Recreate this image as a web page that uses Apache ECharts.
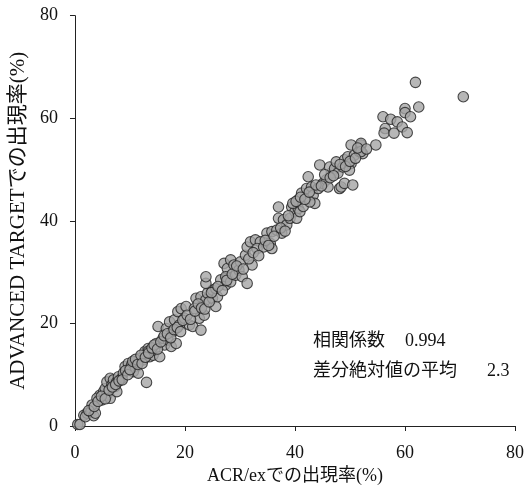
<!DOCTYPE html>
<html>
<head>
<meta charset="utf-8">
<script src="https://cdn.jsdelivr.net/npm/echarts@6/dist/echarts.min.js"></script>
<style>
  html, body { margin: 0; padding: 0; background: #fff; }
</style>
</head>
<body>
<div style="width: 527px;height: 493px" id="main"></div>
<script>
  // ACR/ex (x) と ADVANCED TARGET (y) の出現率 (%)
  const acrEx = [
    0.5, 0.9, 1.6, 2.2, 1.9, 2.9, 3.4, 3.7, 3.1, 4.5, 4.0, 4.9, 5.2, 5.8, 6.4, 5.5,
    5.8, 6.4, 6.7, 7.3, 7.0, 7.6, 7.9, 8.5, 8.8, 7.6, 9.1, 9.7, 10.3, 10.9, 11.2, 10.6,
    11.5, 11.8, 12.4, 12.7, 13.3, 13.6, 14.2, 13.0,
    13.3, 14.5, 15.4, 14.8, 16.3, 16.0, 16.9, 17.5, 18.4, 15.1, 16.6, 17.8, 17.2, 18.1,
    19.0, 18.7, 19.3, 20.2, 19.9, 20.8, 21.4, 21.7, 22.9, 22.6, 23.5, 22.0, 22.9, 23.8,
    25.0, 25.6, 24.1, 25.0, 25.9, 23.8, 23.8, 25.6, 26.5, 27.4, 27.7,
    27.1, 27.7, 28.3, 28.9, 27.4, 28.3, 29.2, 29.8, 30.1, 30.4, 31.3, 32.2, 31.0, 31.3,
    31.9, 32.8, 33.7, 33.1, 34.3, 35.5, 35.8, 34.9, 35.8, 36.7, 37.6, 37.0, 37.9, 38.5,
    39.1, 37.0, 39.4, 40.0, 40.6,
    40.3, 40.9, 41.5, 40.6, 41.2, 42.1, 42.4, 43.0, 43.3, 43.6, 42.7, 44.2, 44.5, 45.1,
    45.7, 46.0, 46.6, 46.3, 47.2, 47.5, 47.8, 48.1, 48.4, 49.0, 48.7, 49.0, 49.6, 50.2,
    50.5, 49.9, 50.8, 51.7, 52.3, 50.2, 52.0, 54.7, 52.0, 52.0,
    56.0, 56.4, 56.2, 57.4, 58.0, 58.6, 59.5, 60.4, 60.0, 60.0, 61.0, 62.5, 61.9, 70.6,
    2.5, 3.5, 4.2, 4.8, 5.5, 6.2, 6.8, 7.4, 8.0, 8.6, 9.2, 9.6, 10.0, 10.5, 11.0, 11.4,
    12.0, 12.2, 12.8, 13.4, 14.0, 14.4, 15.0, 15.6, 16.2, 16.8, 17.4, 18.0, 18.6, 19.2,
    19.6, 20.4, 21.0, 21.8, 22.4, 23.0, 23.6, 24.4, 24.8, 26.0, 26.8, 27.6, 28.6, 29.4,
    30.6, 31.6, 32.4, 33.4, 34.6, 35.2, 36.2, 37.4, 38.2, 38.8, 39.6, 40.2, 41.0, 41.8,
    42.6, 43.8, 44.8, 45.4, 46.4, 47.0, 48.2, 49.2, 50.0, 51.0, 51.4, 53.0
  ];
  const advancedTarget = [
    0.3, 0.3, 2.1, 2.5, 1.8, 2.8, 2.0, 2.5, 4.1, 6.0, 5.4, 5.1, 6.7, 6.0, 5.4, 7.3,
    8.6, 9.3, 8.0, 7.7, 9.0, 8.6, 9.6, 9.3, 10.3, 6.7, 11.6, 12.2, 11.9, 12.5, 11.6, 10.6,
    10.3, 13.2, 12.9, 14.5, 15.1, 13.5, 13.8, 8.5,
    14.5, 14.8, 13.5, 16.1, 15.8, 17.1, 16.8, 15.5, 16.1, 19.4, 19.0, 18.4, 20.3, 20.7,
    19.7, 22.3, 22.9, 23.3, 21.0, 19.7, 19.4, 22.9, 18.7, 21.0, 21.6, 24.9, 25.2, 24.6,
    24.9, 23.3, 25.9, 26.5, 25.2, 27.8, 29.1, 26.8, 28.5, 27.5, 29.1,
    31.7, 30.7, 32.4, 31.4, 29.1, 28.1, 29.4, 30.4, 32.0, 29.1, 27.8, 31.4, 33.3, 34.9,
    35.9, 36.3, 35.9, 34.6, 34.9, 35.6, 34.6, 37.6, 37.9, 38.2, 37.6, 40.5, 40.2, 39.2,
    40.5, 42.7, 42.7, 41.8, 42.4,
    40.5, 41.8, 42.8, 44.1, 45.4, 46.3, 48.6, 46.6, 45.0, 43.4, 43.7, 46.3, 50.9, 47.3,
    48.0, 46.6, 49.3, 50.5, 50.2, 51.5, 49.3, 46.3, 46.6, 47.3, 50.5, 51.9, 52.5, 51.2,
    47.0, 49.9, 52.8, 53.5, 53.1, 54.8, 54.8, 54.8, 55.1, 53.5,
    60.3, 58.0, 57.1, 59.8, 57.1, 59.3, 58.3, 57.2, 61.9, 61.1, 60.3, 62.2, 67.0, 64.2,
    3.0, 3.8, 4.8, 5.8, 5.3, 7.0, 7.6, 8.1, 8.8, 9.0, 10.8, 10.0, 11.0, 12.6, 13.0, 12.0,
    13.8, 12.2, 13.4, 14.2, 15.2, 15.8, 15.0, 16.4, 17.6, 18.0, 17.2, 18.8, 19.2, 18.4,
    20.6, 21.6, 20.8, 22.4, 23.8, 23.0, 22.8, 24.2, 26.0, 27.2, 26.4, 28.4, 29.6, 31.2,
    30.6, 32.6, 33.8, 33.2, 36.2, 35.2, 37.0, 38.6, 38.0, 41.0, 43.4, 43.8, 44.6, 44.2,
    45.6, 47.0, 46.8, 49.0, 48.4, 48.8, 51.0, 50.6, 51.6, 52.2, 54.2, 54.0
  ];
  const axisTicks = [0, 20, 40, 60, 80];
  const statNames = ['相関係数', '差分絶対値の平均'];
  const statValues = ['0.994', '2.3'];

  const serif = '"Liberation Serif", "DejaVu Serif", "Noto Sans CJK JP", serif';
  const points = acrEx.map((x, i) => [x, advancedTarget[i]]);

  const axisCommon = {
    type: 'value',
    min: axisTicks[0],
    max: axisTicks[axisTicks.length - 1],
    interval: 20,
    nameLocation: 'middle',
    axisLine: { show: true, lineStyle: { color: '#222', width: 1 } },
    axisTick: { show: true, inside: false, length: 5, lineStyle: { color: '#222' } },
    axisLabel: { fontFamily: serif, fontSize: 18, color: '#111' },
    splitLine: { show: false }
  };

  // 統計値の注記（名前と値を別々に置く）
  const statText = [];
  statNames.forEach((t, i) => {
    statText.push({
      type: 'text', left: 313, top: 332 + i * 30,
      style: { text: t, fontFamily: serif, fontSize: 18, fill: '#111' }
    });
    statText.push({
      type: 'text', left: i === 0 ? 405 : 487, top: 332 + i * 30,
      style: { text: statValues[i], fontFamily: serif, fontSize: 18, fill: '#111' }
    });
  });

  const chart = echarts.init(document.getElementById('main'));
  chart.setOption({
    animation: false,
    grid: { left: 72.5, right: 10, top: 15.7, bottom: 67 },
    xAxis: Object.assign({}, axisCommon, {
      name: 'ACR/exでの出現率(%)',
      nameGap: 40,
      nameTextStyle: { fontFamily: serif, fontSize: 18, color: '#111' },
      axisLabel: Object.assign({}, axisCommon.axisLabel, { margin: 18 })
    }),
    yAxis: Object.assign({}, axisCommon, {
      name: 'ADVANCED TARGETでの出現率(%)',
      nameGap: 46,
      nameTextStyle: { fontFamily: serif, fontSize: 21, color: '#111' },
      axisLabel: Object.assign({}, axisCommon.axisLabel, { margin: 17 })
    }),
    graphic: statText,
    series: [
      {
        type: 'scatter',
        data: points,
        symbol: 'circle',
        symbolSize: 10.5,
        itemStyle: { color: '#a5a5a5', borderColor: '#222', borderWidth: 1.1 }
      }
    ]
  });
</script>
</body>
</html>
